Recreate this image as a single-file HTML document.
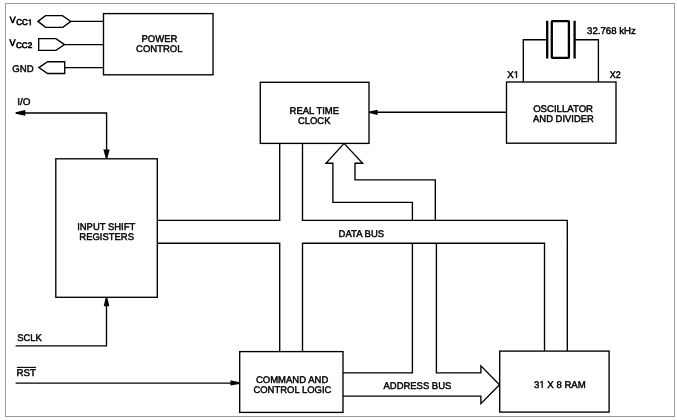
<!DOCTYPE html>
<html><head><meta charset="utf-8">
<style>
html,body{margin:0;padding:0;background:#fff;width:677px;height:420px;overflow:hidden}
svg{display:block;filter:blur(0.3px)}
text{text-rendering:geometricPrecision;font-family:"Liberation Sans",sans-serif;fill:#000;font-size:10px;stroke:#000;stroke-width:0.46px}
</style></head><body>
<svg width="677" height="420" viewBox="0 0 677 420">
<rect x="5.5" y="3.5" width="669" height="413" fill="none" stroke="#999" stroke-width="1"/>
<g fill="none" stroke="#000" stroke-width="1.35" stroke-linejoin="miter">
<!-- power pins -->
<polygon points="38,21.4 45.5,15.6 62.4,15.6 70.8,21.4 62.8,27.3 45.5,27.3"/>
<polygon points="38.7,38.6 55.9,38.6 64.5,44.6 55.9,50.3 38.7,50.3"/>
<polygon points="38.8,67.6 47.6,61.7 64.7,61.7 64.7,73.5 47.6,73.5"/>
<path d="M70.8,21.4H103.5 M64.5,44.6H103.5 M64.7,67.6H103.5"/>
<rect x="103.5" y="13.6" width="109.5" height="61.2"/>
<!-- I/O -->
<path d="M24,113H106.6V150"/>
<!-- input shift -->
<rect x="55.8" y="158.8" width="101.5" height="138.5"/>
<path d="M106.5,306V345.9H15.6"/>
<!-- RST -->
<path d="M15.6,383.1H231"/>
<!-- RTC -->
<rect x="260.3" y="82.3" width="108.7" height="61.1"/>
<path d="M377,112.2H506.5"/>
<!-- OSC -->
<rect x="506.5" y="82" width="109.5" height="61.2"/>
<path d="M523.3,82V39.7H547 M598.4,82V39.7H574.6"/>
<!-- buses -->
<path d="M279.7,143.4V220.3H157.3 M302.5,143.4V220.3H567.3V351.1 M157.3,243.2H279.7V351.6 M302.5,351.6V243.2H544.5V351.1"/>
<path d="M344.1,143.4L326,163.2H332.9V202.4H412.4V220.2 M344.1,143.4L362.6,163.2H355V179.8H435.3V220.2"/>
<path d="M412.4,243.2V372.8H343 M436.4,243.2V372.8H480.9V365.8L499.5,384.7L480.9,403.6V396.1H343"/>
<rect x="239.7" y="351.6" width="103.3" height="60.8"/>
<rect x="499.7" y="351.1" width="109.4" height="61"/>
<path d="M16.9,367.4H36" stroke-width="1.1"/>
</g>
<g fill="none" stroke="#000" stroke-width="2.3">
<path d="M547.2,20.8V58.6 M574.6,20.8V58.6"/>
<rect x="551.8" y="21.1" width="17.1" height="36.8" rx="0.6"/>
</g>
<g fill="#000" stroke="none">
<polygon points="15.6,112.3 15.6,113.7 25.3,115.7 25.3,110.1"/>
<polygon points="103.4,149.6 109.6,149.6 107.4,158.6 105.8,158.6"/>
<polygon points="105.7,297.4 107.3,297.4 109.4,306.3 103.7,306.3"/>
<polygon points="230.5,380.3 230.5,385.6 239.6,383.9 239.6,382.3"/>
<polygon points="377.6,109.7 377.6,114.9 369,113.0 369,111.4"/>
</g>
<g id="T">
<!--T-->
<text transform="matrix(0.8812 0 0 0.9012 9.66 22.50)" style="stroke-width:0.75px">V</text>
<g transform="matrix(0.8077 0 0 0.8474 16.19 25.22)"><text style="stroke-width:0.75px">CC </text><path transform="matrix(0.004883 0 0 -0.004883 14.443 0)" d="M515 0V1237L197 1010V1180L530 1409H696V0Z" stroke="#000" stroke-width="153.6"/></g>
<text transform="matrix(0.8964 0 0 0.9448 9.56 46.20)" style="stroke-width:0.75px">V</text>
<text transform="matrix(0.8160 0 0 0.8051 15.89 48.22)" style="stroke-width:0.75px">CC2</text>
<text transform="matrix(0.9604 0 0 0.9700 12.32 71.69)">GND</text>
<text transform="matrix(0.9508 0 0 0.9700 141.42 41.69)">POWER</text>
<text transform="matrix(0.9490 0 0 0.9700 136.12 52.14)">CONTROL</text>
<text transform="matrix(0.9888 0 0 0.9700 17.19 104.97)">I/O</text>
<text transform="matrix(0.9448 0 0 0.9700 77.13 230.34)">INPUT SHIFT</text>
<text transform="matrix(0.9450 0 0 0.9700 79.32 240.29)">REGISTERS</text>
<text transform="matrix(0.9469 0 0 0.9700 17.17 340.99)">SCLK</text>
<text transform="matrix(0.9762 0 0 0.9700 16.40 376.24)">RST</text>
<text transform="matrix(0.9493 0 0 0.9700 289.52 113.74)">REAL TIME</text>
<text transform="matrix(0.9458 0 0 0.9700 297.92 123.84)">CLOCK</text>
<text transform="matrix(0.9595 0 0 0.9700 533.15 112.09)">OSCILLATOR</text>
<text transform="matrix(0.9426 0 0 0.9700 533.08 122.19)">AND DIVIDER</text>
<g transform="matrix(0.9651 0 0 0.9700 507.18 77.89)"><text style="stroke-width:0.46px">X </text><path transform="matrix(0.004883 0 0 -0.004883 6.670 0)" d="M515 0V1237L197 1010V1180L530 1409H696V0Z" stroke="#000" stroke-width="94.2"/></g>
<text transform="matrix(0.8953 0 0 0.9700 609.70 77.89)">X2</text>
<text transform="matrix(0.9466 0 0 0.9700 338.62 236.99)">DATA BUS</text>
<text transform="matrix(0.9504 0 0 0.9700 255.92 382.69)">COMMAND AND</text>
<text transform="matrix(0.9457 0 0 0.9700 253.42 392.84)">CONTROL LOGIC</text>
<text transform="matrix(0.9465 0 0 0.9700 383.48 389.29)">ADDRESS BUS</text>
<g transform="matrix(0.9581 0 0 0.9700 534.04 387.69)"><text style="stroke-width:0.46px">3  X 8 RAM</text><path transform="matrix(0.004883 0 0 -0.004883 5.562 0)" d="M515 0V1237L197 1010V1180L530 1409H696V0Z" stroke="#000" stroke-width="94.2"/></g>
<text transform="matrix(0.9636 0 0 0.9700 587.03 33.92)">32.768 kHz</text>
<!--/T-->
</g>
</svg>
</body></html>
